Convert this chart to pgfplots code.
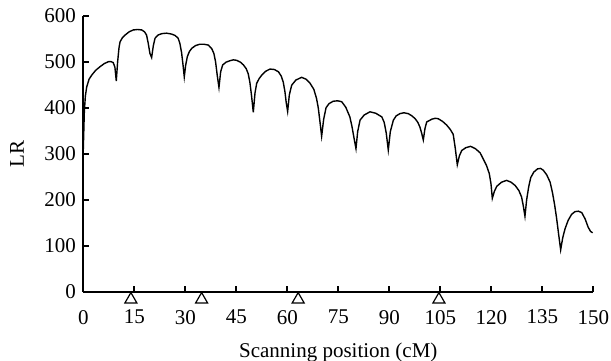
\documentclass[border=0pt]{standalone}
\usepackage{pgfplots}
\pgfplotsset{compat=1.18}
\usepackage{fontspec}
\setmainfont{Liberation Serif}
\begin{document}
\fontsize{10.5}{12.6}\selectfont
\begin{tikzpicture}
\begin{axis}[
 scale only axis, width=255pt, height=138pt,
 xmin=0, xmax=150, ymin=0, ymax=600,
 axis x line*=bottom, axis y line*=left,
 axis line style={line width=1pt, -},
 xtick={0,15,...,150}, ytick={0,100,...,600},
 tick align=inside, major tick length=3pt,
 tick style={line width=1pt, black},
 /pgf/number format/assume math mode=true,
 xticklabel style={yshift=-5.5pt},
 xlabel={Scanning position (cM)}, ylabel={LR},
 xlabel style={yshift=-2pt},
 ylabel style={yshift=3pt},
 clip=false,
]
\addplot[black, line width=0.7pt] coordinates {
(0,310) (0.3,390) (0.6,425) (1,445) (1.7,462) (2.5,471) (3.6,481) (4.9,489) (6.2,496) (7.4,500) (8.2,500) (8.8,498) (9.3,488) (9.7,458) (10.1,500)
(10.5,530) (10.8,543) (11.5,552) (12.3,558) (13.5,565) (14.7,569) (16,570) (17.2,569) (18,565) (18.6,558) (19.1,540) (19.6,518) (20.1,509)
(20.6,535) (21.1,551) (22,558) (23.1,561) (24.5,562) (26,560) (27,557) (27.9,551) (28.4,540) (28.9,520) (29.3,495) (29.7,467)
(30.1,492) (30.6,511) (31.2,522) (31.9,529) (33,535) (34.3,538) (35.5,538) (36.8,536) (37.8,528) (38.4,518) (38.9,500) (39.4,470) (39.9,444)
(40.4,478) (41,493) (42,499) (43.1,502) (44.1,504) (45.1,503) (46.2,499) (47.1,493) (47.9,485) (48.5,474) (49,455) (49.5,425) (50,390)
(50.5,432) (51,453) (51.7,463) (52.5,471) (53.6,479) (54.9,484) (56.2,483) (57.4,478) (58.2,469) (58.8,456) (59.3,435) (59.7,410) (60.1,392)
(60.6,428) (61.3,449) (62.5,460) (64.2,466) (65.5,462) (66.7,453) (67.8,440) (68.6,420) (69.1,400) (69.6,370) (70.1,338)
(70.7,375) (71.4,400) (72.3,409) (73.5,414) (74.8,415) (76,413) (77.2,401) (78.4,380) (79,360) (79.6,335) (80.2,311)
(80.7,348) (81.4,373) (82.6,384) (84.3,391) (86,388) (87.8,380) (88.5,368) (89.1,345) (89.7,308)
(90.3,348) (91.2,373) (92,382) (93.1,387) (94.3,389) (95.6,387) (96.7,382) (97.6,376) (98.4,368) (99,358) (99.5,345) (100,330)
(100.5,355) (101,369) (102.5,375) (103.5,377) (104.4,376) (105.7,370) (106.9,362) (108,352) (108.8,342) (109.4,312) (110,276)
(110.6,295) (111.3,307) (112.5,313) (113.9,316) (115.3,311) (116.7,302) (117.6,289) (118.6,274) (119.4,257) (119.9,235) (120.3,203)
(120.9,218) (121.6,229) (123,238) (124.5,242) (125.8,238) (127,231) (128.1,220) (128.9,206) (129.4,187) (129.9,164)
(130.4,200) (131,228) (131.6,248) (132.5,260) (133.6,267) (134.5,268) (135.3,264) (136.3,254) (137.3,238) (138,215) (138.6,190) (139.2,160) (139.8,125) (140.4,91)
(141,117) (141.7,137) (142.6,155) (143.6,168) (144.6,174) (145.6,175) (146.6,172) (147.6,158) (148.5,140) (149.2,131) (149.8,128)
};
\addplot[only marks, mark=triangle, mark size=3.46pt, mark options={line width=0.6pt, draw=black, fill=white}] coordinates {(14,-17) (34.8,-17) (63.2,-17) (104.6,-17)};
\coordinate (sw) at (rel axis cs:0,0);
\coordinate (ne) at (rel axis cs:1,1);
\end{axis}
\pgfresetboundingbox
\path ([shift={(-41.65pt,-34.65pt)}]sw) rectangle ([shift={(8.85pt,7.85pt)}]ne);
\end{tikzpicture}
\end{document}
